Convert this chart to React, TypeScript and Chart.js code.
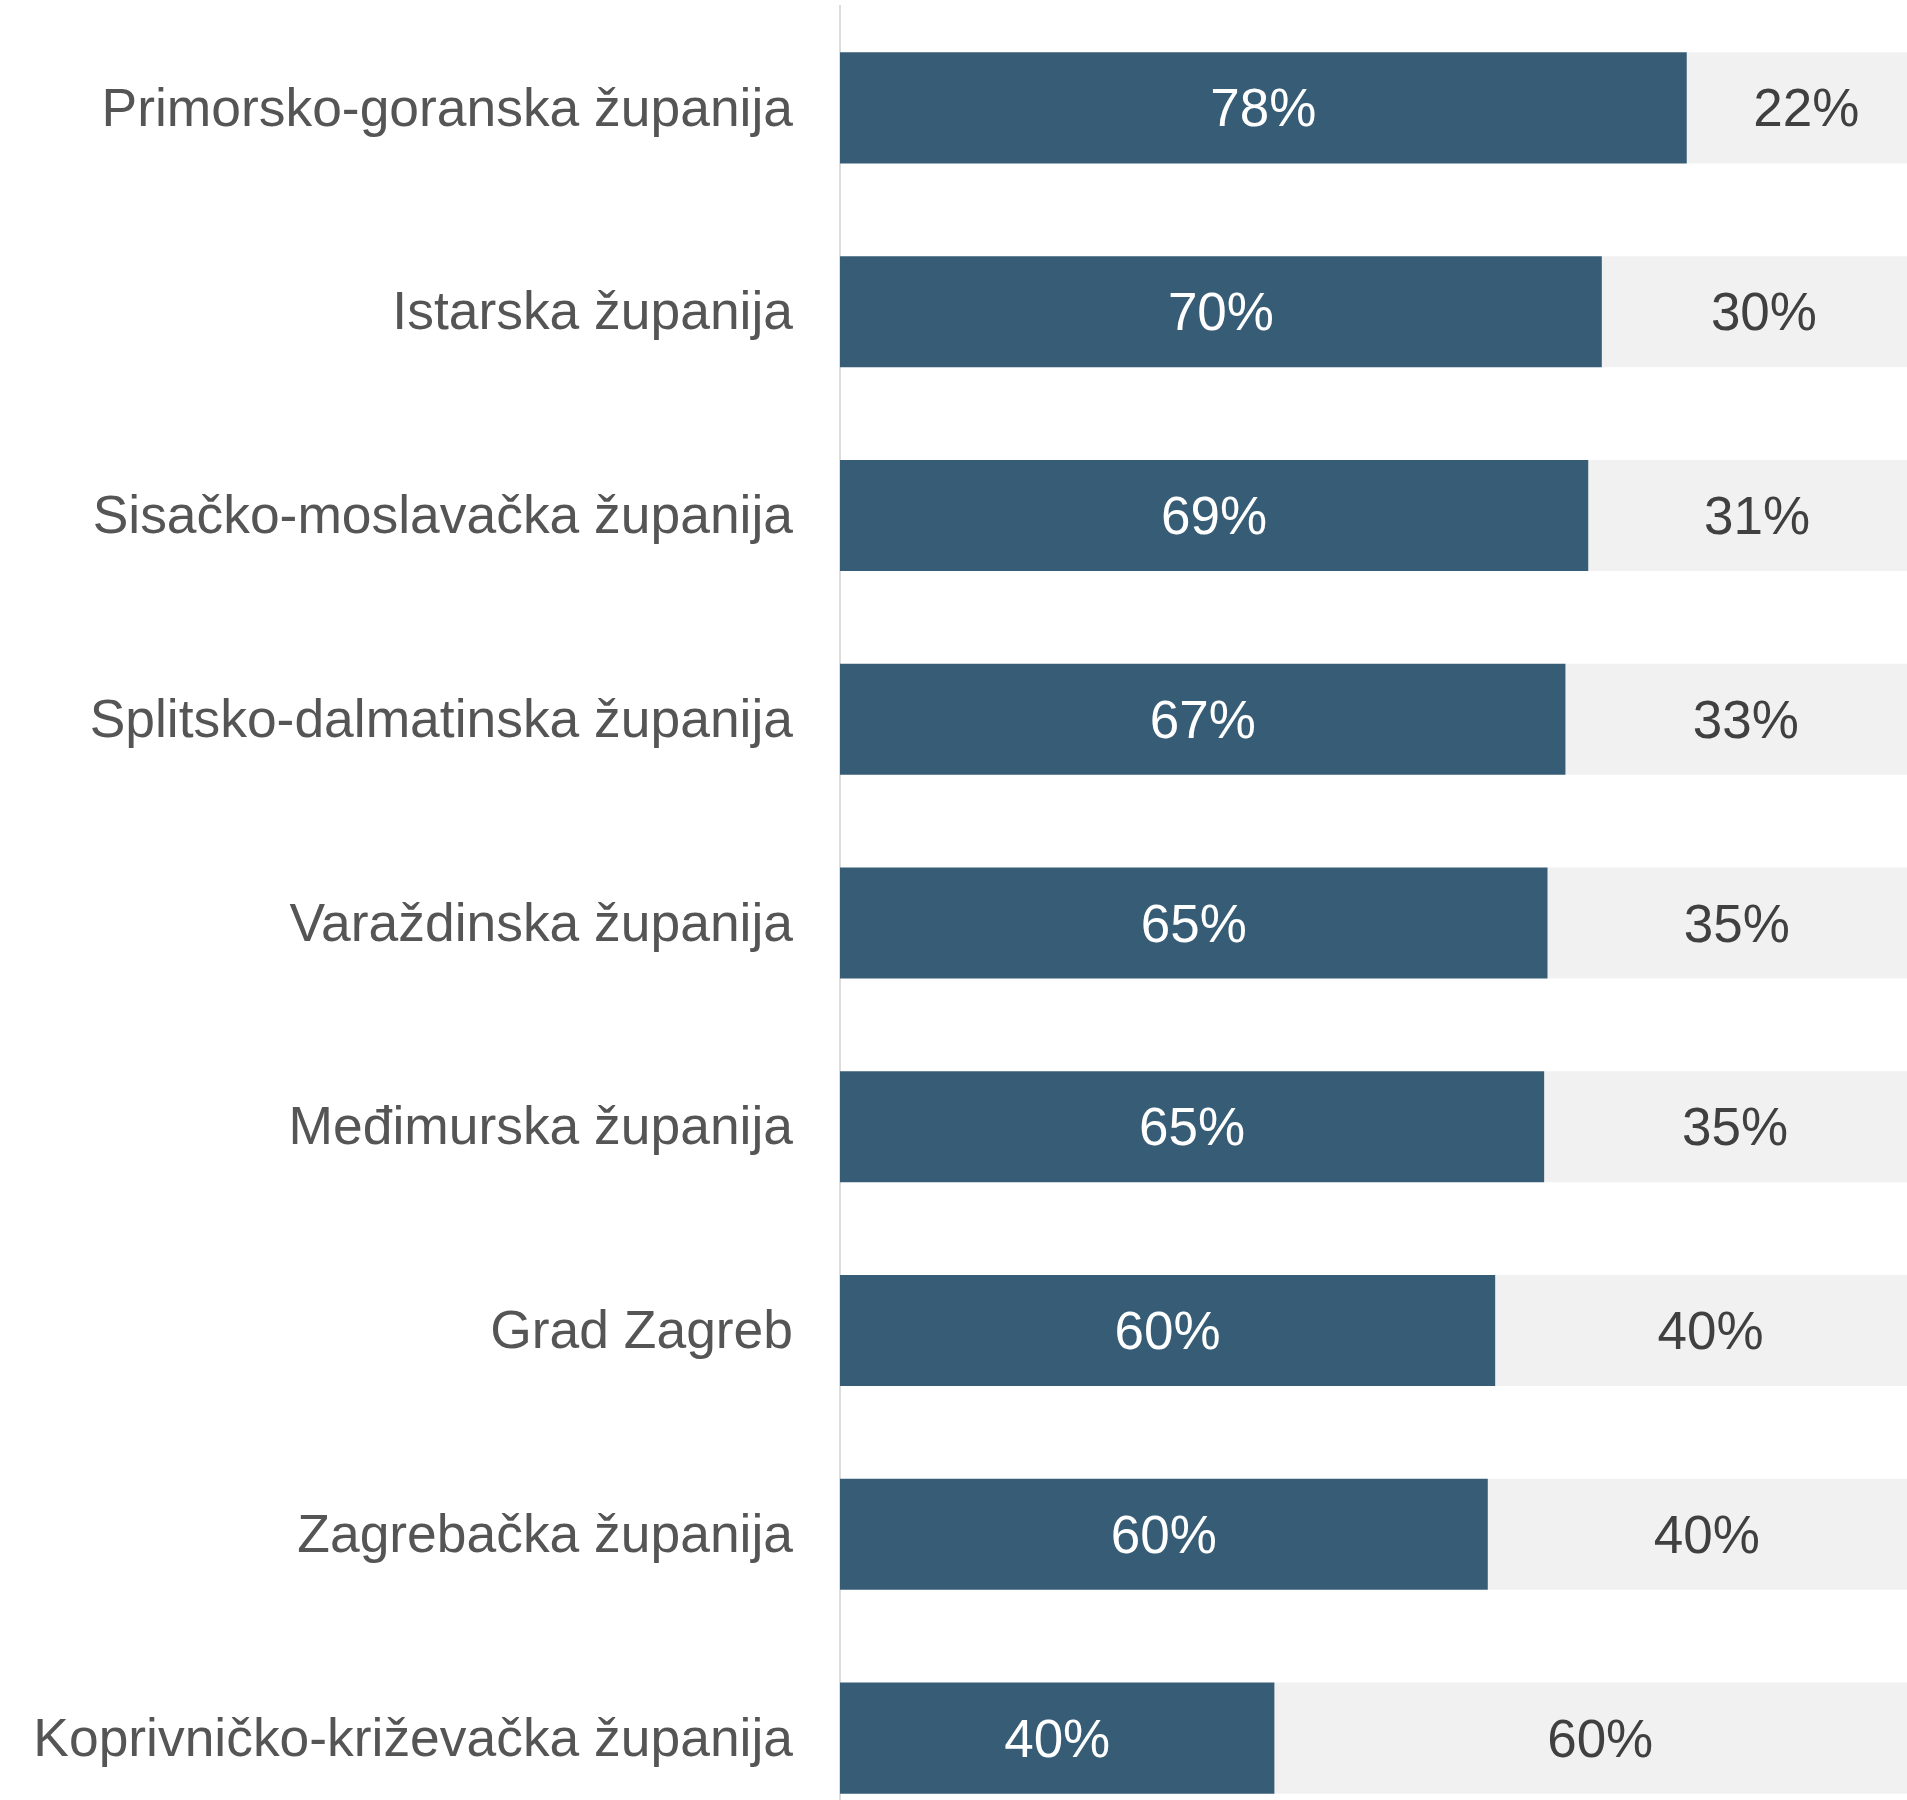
import React, { useEffect, useRef } from "react";
import { Chart, registerables } from "chart.js";

Chart.register(...registerables);

const categories = [
  "Primorsko-goranska županija",
  "Istarska županija",
  "Sisačko-moslavačka županija",
  "Splitsko-dalmatinska županija",
  "Varaždinska županija",
  "Međimurska županija",
  "Grad Zagreb",
  "Zagrebačka županija",
  "Koprivničko-križevačka županija",
];

const shareYes = [77.97, 70.15, 68.9, 66.8, 65.15, 64.84, 60.33, 59.65, 40.0];
const shareRest = shareYes.map((v) => 100 - v);

const DARK = "#375d76";
const LIGHT = "#f1f1f1";
const FONT = "'Liberation Sans', Arial, Helvetica, sans-serif";

const barLabels = {
  id: "barLabels",
  afterDatasetsDraw(chart: any) {
    const ctx = chart.ctx;
    const xs = chart.scales.x;
    ctx.save();
    ctx.font = `53px ${FONT}`;
    ctx.textAlign = "center";
    ctx.textBaseline = "middle";
    chart.data.datasets.forEach((ds: any, di: number) => {
      const meta = chart.getDatasetMeta(di);
      meta.data.forEach((el: any, j: number) => {
        let start = 0;
        for (let k = 0; k < di; k++) start += chart.data.datasets[k].data[j];
        const v = ds.data[j];
        const cx = xs.getPixelForValue(start + v / 2);
        ctx.fillStyle = di === 0 ? "#ffffff" : "#404040";
        ctx.fillText(Math.round(v) + "%", cx, el.y + 4);
      });
    });
    ctx.restore();
  },
};

export default function App() {
  const ref = useRef<HTMLCanvasElement | null>(null);
  useEffect(() => {
    if (!ref.current) return;
    const chart = new Chart(ref.current, {
      type: "bar",
      data: {
        labels: categories,
        datasets: [
          {
            label: "Da",
            data: shareYes,
            backgroundColor: DARK,
            borderWidth: 0,
            barPercentage: 0.545,
            categoryPercentage: 1,
          },
          {
            label: "Ne",
            data: shareRest,
            backgroundColor: LIGHT,
            borderWidth: 0,
            barPercentage: 0.545,
            categoryPercentage: 1,
          },
        ],
      },
      options: {
        indexAxis: "y",
        responsive: false,
        animation: false,
        devicePixelRatio: 1,
        layout: { padding: { top: 6, left: 0, right: 0, bottom: 0 } },
        plugins: {
          legend: { display: false },
          tooltip: { enabled: false },
        },
        scales: {
          x: {
            type: "linear",
            stacked: true,
            min: 0,
            max: 100,
            display: false,
          },
          y: {
            type: "category",
            stacked: true,
            grid: { display: false, drawTicks: false },
            border: { display: true, color: "#dcdcdc", width: 2 },
            ticks: {
              padding: 47,
              labelOffset: 3,
              color: "#555555",
              font: { size: 53.4, family: FONT },
            },
            afterFit: (scale: any) => {
              scale.width = 840;
              scale.paddingTop = 0;
              scale.paddingBottom = 0;
            },
          },
        },
      },
      plugins: [barLabels],
    });
    return () => chart.destroy();
  }, []);
  return (
    <div
      style={{
        position: "fixed",
        left: 0,
        top: 0,
        width: 1907,
        height: 1800,
        overflow: "hidden",
        background: "#ffffff",
      }}
    >
      <canvas
        ref={ref}
        width={1926}
        height={1840}
        style={{ width: 1926, height: 1840, display: "block" }}
      />
    </div>
  );
}
